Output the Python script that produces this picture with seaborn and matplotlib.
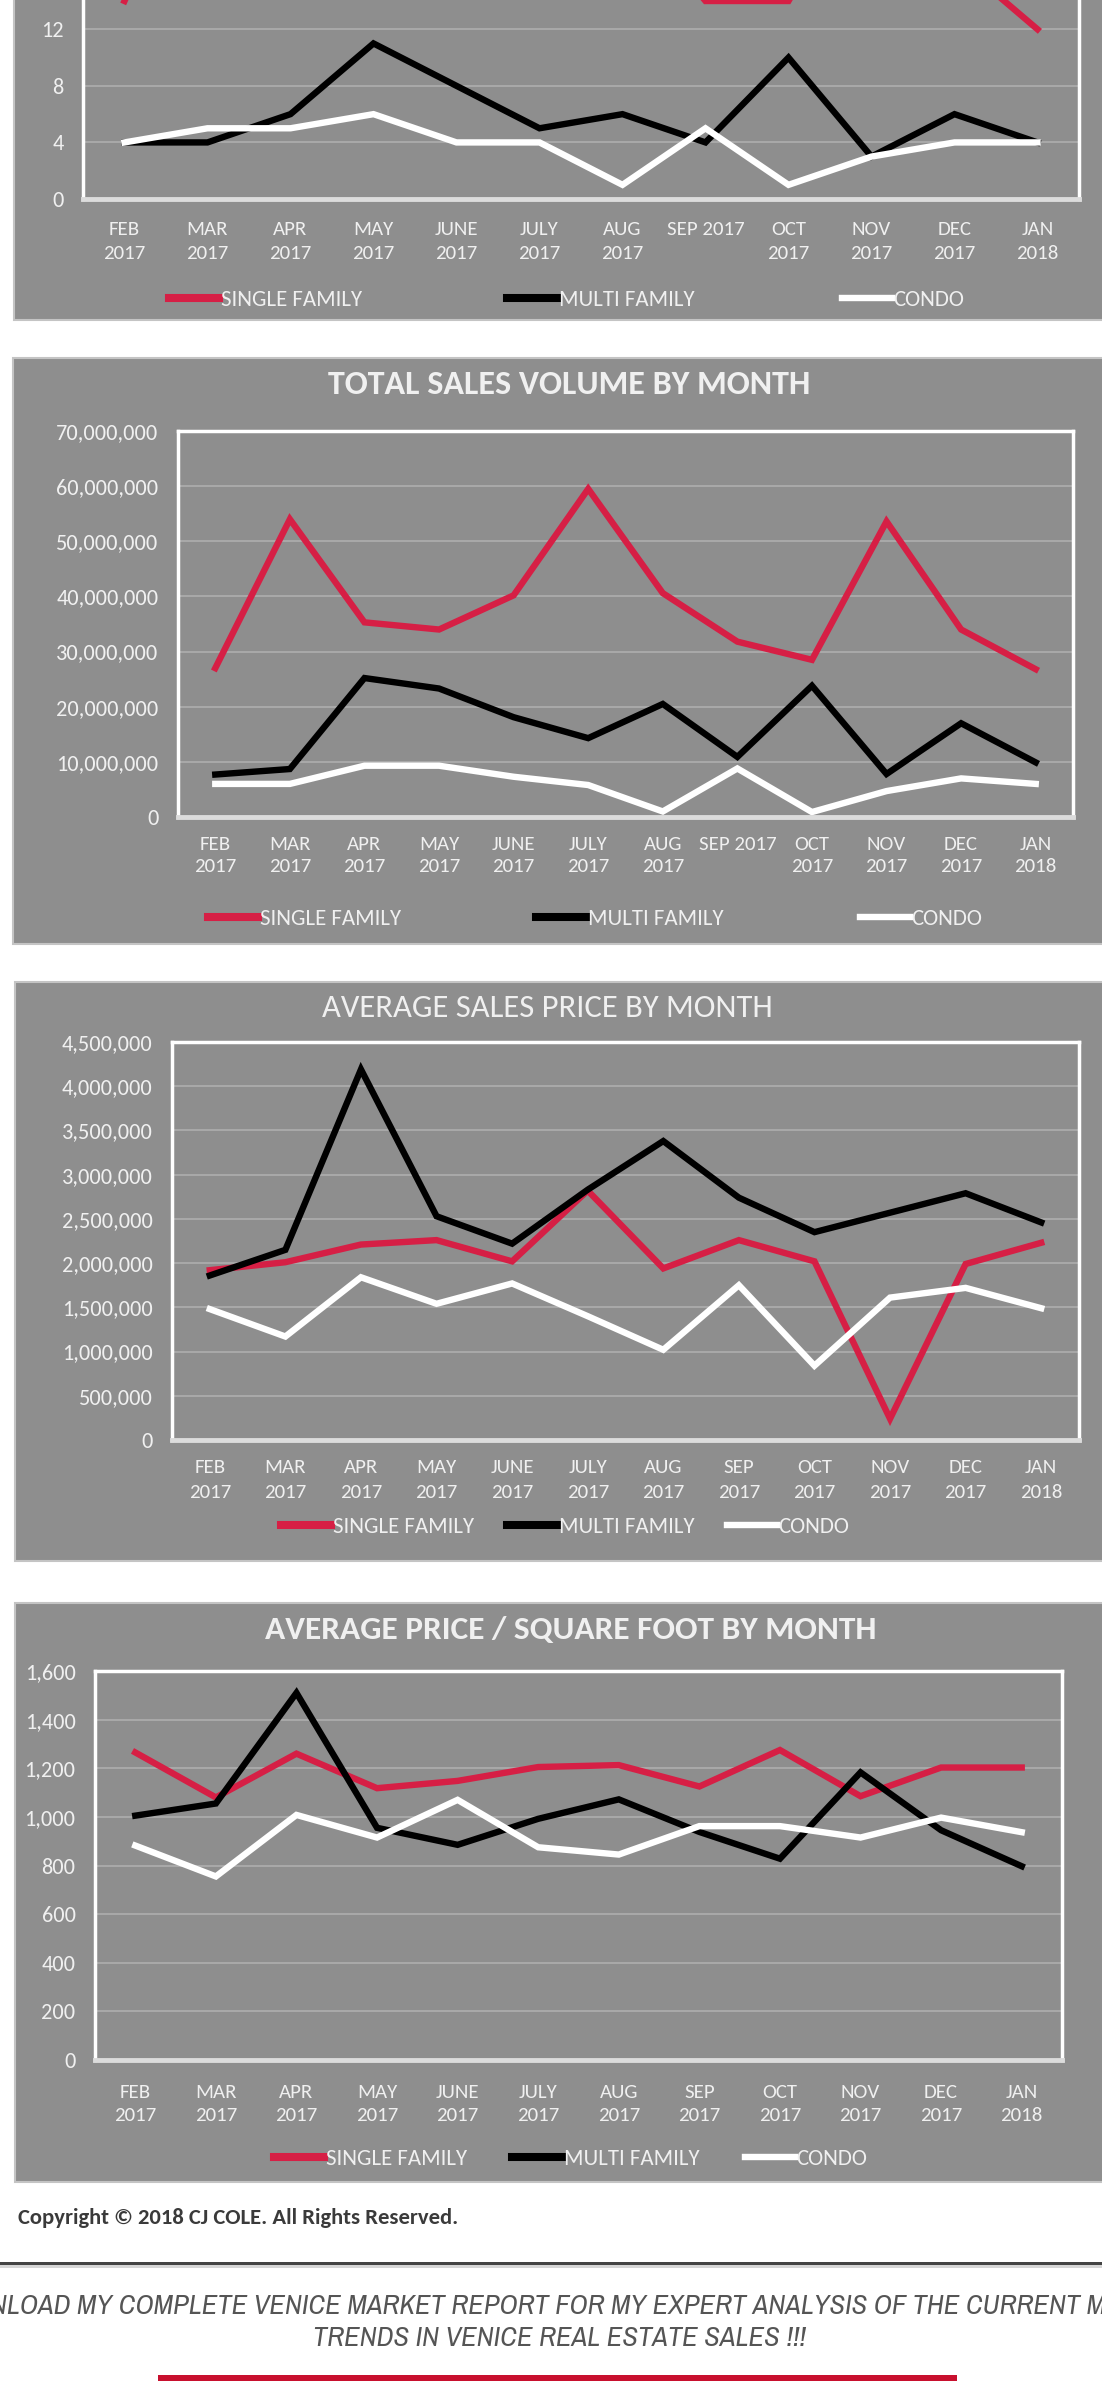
import numpy as np
import pandas as pd
import matplotlib
matplotlib.use("Agg")
import matplotlib.pyplot as plt
import matplotlib.font_manager as fm
from matplotlib.patches import Rectangle
from matplotlib.ticker import FuncFormatter, FixedLocator
import seaborn as sns

# ---------------- data ----------------
months_a = ["FEB\n2017", "MAR\n2017", "APR\n2017", "MAY\n2017", "JUNE\n2017", "JULY\n2017",
            "AUG\n2017", "SEP 2017", "OCT\n2017", "NOV\n2017", "DEC\n2017", "JAN\n2018"]
months_b = ["FEB\n2017", "MAR\n2017", "APR\n2017", "MAY\n2017", "JUNE\n2017", "JULY\n2017",
            "AUG\n2017", "SEP\n2017", "OCT\n2017", "NOV\n2017", "DEC\n2017", "JAN\n2018"]
series_names = ["SINGLE FAMILY", "MULTI FAMILY", "CONDO"]

count_sf = [14, 27, 16, 15, 20, 21, 21, 14, 14, 24, 17, 12]
count_mf = [4, 4, 6, 11, 8, 5, 6, 4, 10, 3, 6, 4]
count_condo = [4, 5, 5, 6, 4, 4, 1, 5, 1, 3, 4, 4]
count_ticks = [0, 4, 8, 12]

volume_sf = [27.0e6, 54.0e6, 35.3e6, 34.0e6, 40.2e6, 59.5e6, 40.6e6, 31.8e6, 28.5e6, 53.6e6, 34.0e6, 26.8e6]
volume_mf = [7.7e6, 8.7e6, 25.2e6, 23.3e6, 18.1e6, 14.3e6, 20.5e6, 10.9e6, 23.8e6, 7.8e6, 17.0e6, 9.9e6]
volume_condo = [6.0e6, 6.0e6, 9.3e6, 9.3e6, 7.3e6, 5.8e6, 1.0e6, 8.8e6, 0.9e6, 4.7e6, 7.0e6, 6.0e6]
volume_ticks = [0, 10e6, 20e6, 30e6, 40e6, 50e6, 60e6, 70e6]

price_sf = [1.92e6, 2.01e6, 2.21e6, 2.26e6, 2.02e6, 2.82e6, 1.94e6, 2.26e6, 2.02e6, 0.24e6, 1.99e6, 2.23e6]
price_mf = [1.86e6, 2.15e6, 4.19e6, 2.53e6, 2.22e6, 2.83e6, 3.38e6, 2.74e6, 2.35e6, 2.57e6, 2.79e6, 2.46e6]
price_condo = [1.48e6, 1.17e6, 1.84e6, 1.54e6, 1.77e6, 1.40e6, 1.02e6, 1.75e6, 0.84e6, 1.61e6, 1.72e6, 1.49e6]
price_ticks = [0, 0.5e6, 1e6, 1.5e6, 2e6, 2.5e6, 3e6, 3.5e6, 4e6, 4.5e6]

ppsf_sf = [1265, 1080, 1260, 1118, 1148, 1205, 1213, 1125, 1275, 1085, 1203, 1203]
ppsf_mf = [1005, 1055, 1510, 955, 885, 992, 1072, 938, 828, 1183, 945, 797]
ppsf_condo = [882, 755, 1008, 915, 1070, 875, 845, 962, 962, 915, 997, 937]
ppsf_ticks = [0, 200, 400, 600, 800, 1000, 1200, 1400, 1600]

titles = [None, "TOTAL SALES VOLUME BY MONTH", "AVERAGE SALES PRICE BY MONTH",
          "AVERAGE PRICE / SQUARE FOOT BY MONTH"]

# ---------------- fonts ----------------
avail = {(f.name, f.style) for f in fm.fontManager.ttflist}


def pick(cands, style="normal"):
    for c in cands:
        if (c, style) in avail:
            return c
    return "DejaVu Sans"


MAIN = pick(["Carlito", "Lato", "Open Sans"])
COPY = pick(["Carlito", "PT Sans", "Lato"])
ITAL = pick(["Liberation Sans Narrow", "Archivo Narrow", "Roboto Condensed", "Liberation Sans"], "italic")
plt.rcParams["font.family"] = [MAIN, "DejaVu Sans"]

W, H = 1102, 2381
BG = "#8e8e8e"
RED = "#d61f45"
TXT = "#f0f0f0"
GRID = "#ababab"
palette = {"SINGLE FAMILY": RED, "MULTI FAMILY": "#000000", "CONDO": "#ffffff"}

fig = plt.figure(figsize=(W / 100, H / 100), dpi=100)
fig.patch.set_facecolor("white")


def fx(px):
    return px / W


def fy(py):
    return 1 - py / H


def add_bg(x0, y0, x1, y1):
    fig.add_artist(Rectangle((fx(x0), fy(y1)), (x1 - x0) / W, (y1 - y0) / H,
                             transform=fig.transFigure, facecolor=BG,
                             edgecolor="#c4c4c4", linewidth=1.5, zorder=0))


panels = [
    dict(bg=(14, -20, 1110, 320), frame=(83, -197, 1079, 199), ylim=(0, 28), ticks=count_ticks,
         data=(count_sf, count_mf, count_condo), months=months_a, xpad=16, ls=1.5,
         legend=[(169, 300), (507, 300), (842, 300)]),
    dict(bg=(13, 358, 1110, 944), frame=(178, 431, 1073, 817), ylim=(0, 70e6), ticks=volume_ticks,
         data=(volume_sf, volume_mf, volume_condo), months=months_a, xpad=14, ls=1.35,
         title=(569, 385, "bold", 24.5), legend=[(208, 919), (536, 919), (860, 919)]),
    dict(bg=(15, 982, 1110, 1561), frame=(172, 1042, 1079, 1440), ylim=(0, 4.5e6), ticks=price_ticks,
         data=(price_sf, price_mf, price_condo), months=months_b, xpad=14, ls=1.55,
         title=(547, 1008, "normal", 23.5), legend=[(281, 1527), (507, 1527), (727, 1527)]),
    dict(bg=(15, 1603, 1110, 2182), frame=(95, 1671, 1062, 2060), ylim=(0, 1600), ticks=ppsf_ticks,
         data=(ppsf_sf, ppsf_mf, ppsf_condo), months=months_b, xpad=17, ls=1.45,
         title=(571, 1630, "bold", 24), legend=[(274, 2159), (512, 2159), (745, 2159)]),
]

for i, p in enumerate(panels):
    add_bg(*p["bg"])
    l, t, r, b = p["frame"]
    ax = fig.add_axes([fx(l), fy(b), (r - l) / W, (b - t) / H])
    ax.set_facecolor("none")
    sf, mf, co = p["data"]
    df = pd.DataFrame({
        "idx": list(range(12)) * 3,
        "value": list(sf) + list(mf) + list(co),
        "type": [series_names[0]] * 12 + [series_names[1]] * 12 + [series_names[2]] * 12,
    })
    sns.lineplot(data=df, x="idx", y="value", hue="type", hue_order=series_names,
                 palette=palette, linewidth=4.6, legend=False, ax=ax, sort=False)
    for ln in ax.get_lines():
        ln.set_solid_joinstyle("miter")
    ax.set_xlim(-0.5, 11.5)
    ax.set_ylim(*p["ylim"])
    ax.yaxis.set_major_locator(FixedLocator(p["ticks"]))
    ax.yaxis.set_major_formatter(FuncFormatter(lambda v, pos: f"{v:,.0f}"))
    ax.set_xticks(range(12))
    ax.set_xticklabels(p["months"], linespacing=p["ls"])
    ax.set_xlabel("")
    ax.set_ylabel("")
    ax.tick_params(axis="y", length=0, pad=14, labelsize=16, labelcolor=TXT)
    ax.tick_params(axis="x", length=0, pad=p["xpad"], labelsize=15, labelcolor=TXT)
    ax.yaxis.grid(True, color=GRID, linewidth=1.3)
    ax.xaxis.grid(False)
    ax.set_axisbelow(True)
    for s in ["top", "left", "right"]:
        ax.spines[s].set_color("white")
        ax.spines[s].set_linewidth(2.5)
    ax.spines["bottom"].set_color("#dcdcdc")
    ax.spines["bottom"].set_linewidth(3.5)

    if "title" in p:
        tx, ty, wt, fs = p["title"]
        fig.text(fx(tx), fy(ty), titles[i], ha="center", va="center", fontsize=fs,
                 fontweight=wt, color=TXT)

    lines = ax.get_lines()
    for (lx, ly), ln, name in zip(p["legend"], lines, series_names):
        leg = fig.legend([ln], [name], loc="center left",
                         bbox_to_anchor=(fx(lx), fy(ly)), bbox_transform=fig.transFigure,
                         frameon=False, handlelength=2.2, handletextpad=0.05,
                         borderpad=0, borderaxespad=0, fontsize=16.5, labelcolor=TXT)
        for h in leg.get_lines():
            h.set_linewidth(5.8 if name != "CONDO" else 4.6)

# ---------------- footer ----------------
fig.text(fx(18), fy(2218), "Copyright \u00a9 2018 CJ COLE. All Rights Reserved.", ha="left",
         va="center", fontsize=16.3, fontweight="bold", color="#3a3a3a", family=[COPY, "DejaVu Sans"])
fig.add_artist(Rectangle((0, fy(2265)), 1, 3 / H, transform=fig.transFigure,
                         facecolor="#444444", edgecolor="none"))
fig.add_artist(Rectangle((0, fy(2268)), 1, 3 / H, transform=fig.transFigure,
                         facecolor="#d6d6d6", edgecolor="none"))
ital_size = 20.5 if ITAL in ("Liberation Sans Narrow", "Archivo Narrow", "Roboto Condensed") else 15.5
fig.text(fx(559), fy(2307),
         "DOWNLOAD MY COMPLETE VENICE MARKET REPORT FOR MY EXPERT ANALYSIS OF THE CURRENT MARKET",
         ha="center", va="center", fontsize=ital_size, style="italic", color="#555555",
         family=[ITAL, "DejaVu Sans"])
fig.text(fx(559), fy(2339), "TRENDS IN VENICE REAL ESTATE SALES !!!", ha="center",
         va="center", fontsize=ital_size, style="italic", color="#555555",
         family=[ITAL, "DejaVu Sans"])
fig.add_artist(Rectangle((fx(158), 0), (957 - 158) / W, 6 / H, transform=fig.transFigure,
                         facecolor="#c8102e", edgecolor="none"))

fig.savefig("out.png", dpi=100, facecolor="white")
